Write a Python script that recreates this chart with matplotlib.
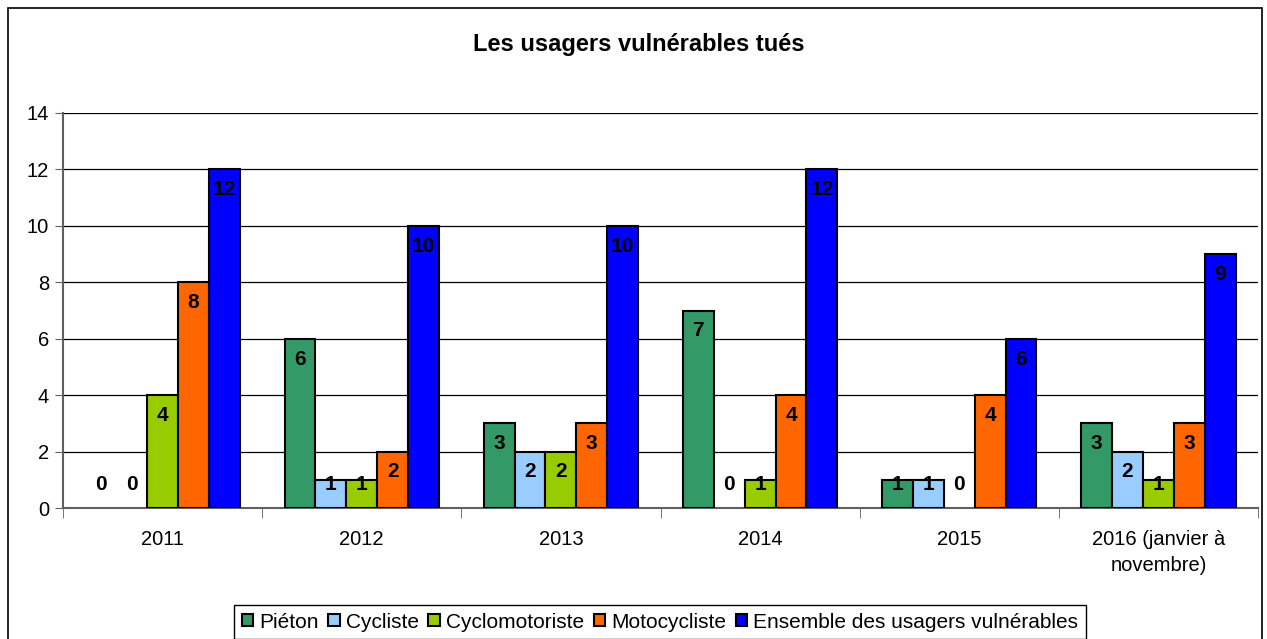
import matplotlib
matplotlib.use('Agg')
import matplotlib.pyplot as plt
from matplotlib.patches import Rectangle, Patch
import numpy as np

plt.rcParams['font.family'] = ['Liberation Sans', 'DejaVu Sans']

years = ["2011", "2012", "2013", "2014", "2015", "2016 (janvier à\nnovembre)"]
series_names = ["Piéton", "Cycliste", "Cyclomotoriste", "Motocycliste",
                "Ensemble des usagers vulnérables"]
pieton = [0, 6, 3, 7, 1, 3]
cycliste = [0, 1, 2, 0, 1, 2]
cyclomoto = [4, 1, 2, 1, 0, 1]
moto = [8, 2, 3, 4, 4, 3]
ensemble = [12, 10, 10, 12, 6, 9]
colors = ["#339966", "#99CCFF", "#99CC00", "#FF6600", "#0000FF"]

series = [pieton, cycliste, cyclomoto, moto, ensemble]

fig = plt.figure(figsize=(12.67, 6.39), dpi=100)
ax = fig.add_axes([63 / 1267, 131 / 639, 1195 / 1267, 395 / 639])

x = np.arange(len(years))
w = 0.155
for i, (vals, col) in enumerate(zip(series, colors)):
    pos = x + (i - 2) * w
    bars = ax.bar(pos, vals, width=w, color=col, edgecolor='black', linewidth=1.5, zorder=3)
    for b, v in zip(bars, vals):
        if v == 0:
            b.set_linewidth(0)
    for p, v in zip(pos, vals):
        ax.text(p, max(v - 0.72, 0.82), str(v), ha='center', va='center',
                fontsize=15, fontweight='bold', color='black', zorder=4)

ax.set_xlim(-0.5, len(years) - 0.5)
ax.set_ylim(0, 14)
ax.set_yticks(range(0, 15, 2))
ax.yaxis.grid(True, color='black', linewidth=0.9, zorder=0)
ax.tick_params(axis='y', labelsize=14.5, length=6, color='#606060', pad=4)

ax.set_xticks(x)
ax.set_xticklabels(years, fontsize=14.5, linespacing=1.45)
ax.tick_params(axis='x', length=0, pad=16)
ax.set_xticks(np.arange(-0.5, len(years)), minor=True)
ax.tick_params(axis='x', which='minor', length=7, color='#606060')

for s in ['top', 'right']:
    ax.spines[s].set_visible(False)
ax.spines['left'].set_color('#606060')
ax.spines['left'].set_linewidth(1.5)
ax.spines['bottom'].set_color('#606060')
ax.spines['bottom'].set_linewidth(1.5)

fig.text(639 / 1267, 1 - 45 / 639, "Les usagers vulnérables tués",
         ha='center', va='center', fontsize=17, fontweight='bold')

fig.patches.append(Rectangle((8 / 1267, -0.02), 1254 / 1267, 1.02 - 8 / 639,
                             transform=fig.transFigure, fill=False,
                             edgecolor='black', linewidth=1.2))

handles = [Patch(facecolor=c, edgecolor='black', linewidth=1.5) for c in colors]
leg = fig.legend(handles, series_names, loc='center', ncol=5,
                 bbox_to_anchor=(660 / 1267, 1 - 622 / 639), fontsize=15,
                 handlelength=0.55, handleheight=0.55, handletextpad=0.3,
                 columnspacing=0.45, borderpad=0.35, fancybox=False,
                 edgecolor='black', framealpha=1)
leg.get_frame().set_linewidth(1.0)

fig.savefig("out.png", dpi=100)
